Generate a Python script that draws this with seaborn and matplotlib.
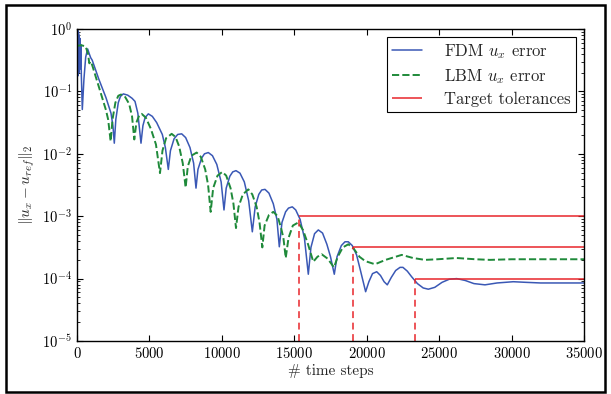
import numpy as np
import pandas as pd
import matplotlib
matplotlib.use("Agg")
import matplotlib.pyplot as plt
from matplotlib.patches import Rectangle
import seaborn as sns

# ---------------- data ----------------
# FDM u_x error: time step and log10 of the error
fdm_steps = [0, 25, 50, 75, 100, 125, 150, 175, 200, 230, 260, 300, 366, 480, 600, 736, 850, 945, 1050,
             1500, 2000, 2347, 2480, 2575, 2680, 2850, 3000, 3197, 3500, 3800, 4004, 4200, 4418,
             4550, 4700, 4924, 5200, 5500, 5890, 6100, 6303, 6450, 6700, 6950, 7227, 7500, 7800,
             8050, 8215, 8350, 8600, 8800, 9064, 9350, 9650, 9950, 10147, 10300, 10550, 10750,
             10976, 11250, 11550, 11850, 12103, 12300, 12550, 12750, 12978, 13250, 13550, 13800,
             13966, 14150, 14400, 14600, 14863, 15100, 15400, 15700, 15968, 16150, 16400, 16658,
             16950, 17250, 17500, 17762, 17950, 18250, 18500, 18729, 19000, 19300, 19600, 19925,
             20150, 20400, 20690, 20950, 21200, 21420, 21700, 22000, 22300, 22500, 22800, 23100,
             23500, 23900, 24253, 24700, 25200, 25700, 26213, 26800, 27400, 28165, 29000, 30120,
             31000, 32000, 33500, 35000]
fdm_log10 = [0.0, -0.7, -0.02, -0.75, -0.05, -0.7, -0.1, -0.65, -0.15, -0.6, -0.25, -0.75, -1.29, -0.8,
             -0.45, -0.32, -0.40, -0.46, -0.50,
             -0.80, -1.10, -1.35, -1.55, -1.83, -1.45, -1.18, -1.08, -1.04, -1.06, -1.11, -1.16, -1.35, -1.83,
             -1.55, -1.42, -1.36, -1.40, -1.50, -1.69, -1.90, -2.25, -1.95, -1.76, -1.69, -1.68, -1.74, -1.90,
             -2.15, -2.55, -2.25, -2.07, -2.00, -1.98, -2.03, -2.17, -2.45, -2.90, -2.55, -2.36, -2.29,
             -2.27, -2.31, -2.45, -2.75, -3.25, -2.85, -2.65, -2.58, -2.57, -2.63, -2.80, -3.05,
             -3.49, -3.10, -2.93, -2.87, -2.85, -2.90, -3.05, -3.35, -3.93, -3.50, -3.28, -3.22,
             -3.27, -3.45, -3.65, -3.93, -3.65, -3.47, -3.41, -3.41, -3.47, -3.62, -3.90, -4.21,
             -4.05, -3.92, -3.89, -3.95, -4.05, -4.10, -3.98, -3.87, -3.82, -3.82, -3.88, -3.97,
             -4.08, -4.15, -4.17, -4.14, -4.06, -4.01, -4.00, -4.03, -4.08, -4.10, -4.07, -4.05,
             -4.06, -4.07, -4.07, -4.07]

# LBM u_x error: time step and log10 of the error
lbm_steps = [0, 300, 600, 760, 850, 950, 1050, 1500, 2000, 2150, 2323, 2450, 2650, 2850, 3037, 3300,
             3600, 3800, 3955, 4100, 4300, 4464, 4750, 5100, 5450, 5729, 5900, 6150, 6535, 6800,
             7050, 7300, 7500, 7650, 7900, 8260, 8550, 8850, 9050, 9227, 9400, 9700, 10031, 10300,
             10600, 10800, 10976, 11150, 11450, 11827, 12100, 12400, 12600, 12793, 12950, 13250,
             13553, 13850, 14100, 14250, 14409, 14600, 14900, 15280, 15600, 15950, 16311, 16600,
             16891, 17300, 17740, 18000, 18350, 18729, 19100, 19500, 19900, 20571, 21300, 22414,
             23200, 24020, 24900, 26200, 27500, 28500, 30000, 35000]
lbm_log10 = [-0.27, -0.26, -0.28, -0.40, -0.55, -0.52, -0.58, -0.92, -1.30, -1.45, -1.80, -1.45, -1.18,
             -1.07, -1.05, -1.08, -1.20, -1.40, -1.77, -1.50, -1.38, -1.36, -1.42, -1.60, -1.85, -2.31,
             -1.95, -1.75, -1.68, -1.73, -1.88, -2.15, -2.54, -2.20, -2.03, -1.98, -2.05, -2.25, -2.50,
             -2.93, -2.55, -2.35, -2.29, -2.35, -2.55, -2.80, -3.19, -2.85, -2.65, -2.57, -2.65, -2.85,
             -3.10, -3.50, -3.15, -2.98, -2.93, -3.00, -3.20, -3.35, -3.67, -3.35, -3.15, -3.10, -3.22,
             -3.45, -3.73, -3.65, -3.61, -3.68, -3.82, -3.65, -3.50, -3.45, -3.52, -3.65, -3.72, -3.77,
             -3.70, -3.62, -3.67, -3.70, -3.69, -3.67, -3.69, -3.70, -3.69, -3.69]

# Target tolerances and the time step at which each is reached
tolerances = [1e-3, 3.16e-4, 1e-4]
tol_steps = [15350, 19074, 23333]

x_ticks = [0, 5000, 10000, 15000, 20000, 25000, 30000, 35000]

# ---------------- style ----------------
sns.set_style("ticks")
plt.rcParams.update({
    "font.family": "serif",
    "font.serif": ["cmr10", "DejaVu Serif"],
    "mathtext.fontset": "cm",
    "axes.formatter.use_mathtext": True,
    "axes.unicode_minus": False,
    "xtick.direction": "in",
    "ytick.direction": "in",
    "axes.edgecolor": "black",
    "axes.linewidth": 1.0,
})

blue = "#3a58b5"
green = "#1f8a3a"
red = "#e8262b"

fdm = pd.DataFrame({"step": fdm_steps, "err": 10.0 ** np.array(fdm_log10)})
lbm = pd.DataFrame({"step": lbm_steps, "err": 10.0 ** np.array(lbm_log10)})

fig = plt.figure(figsize=(6.11, 3.94), dpi=100)
ax = fig.add_axes([77 / 611, 1 - 341 / 394, (584 - 77) / 611, (341 - 29) / 394])

sns.lineplot(data=fdm, x="step", y="err", ax=ax, color=blue, lw=1.1, label=r"FDM $u_x$ error")
sns.lineplot(data=lbm, x="step", y="err", ax=ax, color=green, lw=1.4, linestyle="--",
             label=r"LBM $u_x$ error")

for i, (t, s) in enumerate(zip(tolerances, tol_steps)):
    ax.hlines(t, s, x_ticks[-1], color=red, lw=1.1, label="Target tolerances" if i == 0 else None)
    ax.vlines(s, 1e-5, t, color=red, lw=1.1, linestyles=(0, (4.5, 3.0)))

ax.set_yscale("log")
ax.set_ylim(1e-5, 1)
ax.set_xlim(0, 35000)
ax.set_xticks(x_ticks)
ax.tick_params(which="both", top=True, right=True, direction="in", labelsize=10.5, colors="black")
ax.tick_params(which="major", length=4, width=0.8)
ax.tick_params(which="minor", length=2.5, width=0.6)
ax.tick_params(axis="x", which="minor", bottom=False, top=False)

ax.set_xlabel("# time steps", fontsize=11, labelpad=2)
ax.set_ylabel(r"$\|u_x - u_{ref}\|_2$", fontsize=11, labelpad=4)

leg = ax.legend(loc="upper right", fontsize=12, frameon=True, fancybox=False,
                edgecolor="black", handlelength=1.8, borderpad=0.3, labelspacing=0.35,
                handletextpad=1.3, borderaxespad=0.5)
leg.get_frame().set_linewidth(0.8)
leg.get_frame().set_alpha(1)

fig.patches.append(Rectangle((6 / 611, 2 / 394), (605 - 6) / 611, (392 - 5) / 394,
                             transform=fig.transFigure, fill=False, lw=1.8, ec="black"))

fig.savefig("out.png", dpi=100)
